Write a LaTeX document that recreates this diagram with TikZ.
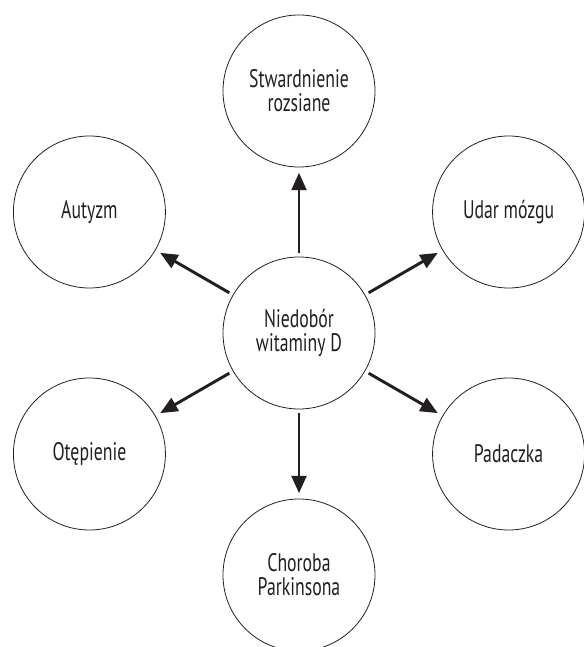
\documentclass[tikz,border=0pt]{standalone}
\usepackage{fontspec}
\setmainfont{PT Sans}[FakeStretch=0.7]
\usetikzlibrary{arrows.meta}
\usetikzlibrary{calc}
\definecolor{vdink}{HTML}{231F20}
\tikzset{
  vdcircle/.style={
    draw=vdink, circle, minimum size=114pt, inner sep=0pt, line width=0.6pt,
    align=center, font=\fontsize{19}{18}\selectfont, text=vdink},
  vdarrow/.style={-{Triangle[length=13pt, width=11pt]}, draw=vdink,
    line width=2.2pt, shorten <=3pt, shorten >=4pt},
}

\begin{document}
\begin{tikzpicture}[x=0.75pt, y=0.75pt]
\useasboundingbox (0, 0) rectangle (583, 647);

% Cause in the middle.
\node[vdcircle] (niedobor) at (299, 314) {Niedobór\\witaminy D};

% Effects round it, every 60 degrees.
\node[vdcircle] (stwardnienie) at ($(niedobor)+(90:242)$)
  {Stwardnienie\\rozsiane};
\node[vdcircle] (udar) at ($(niedobor)+(30:242)$) {Udar mózgu};
\node[vdcircle] (padaczka) at ($(niedobor)+(-30:242)$) {Padaczka};
\node[vdcircle] (parkinson) at ($(niedobor)+(-90:242)$)
  {Choroba\\Parkinsona};
\node[vdcircle] (otepienie) at ($(niedobor)+(210:242)$) {Otępienie};
\node[vdcircle] (autyzm) at ($(niedobor)+(150:242)$) {Autyzm};

% Arrows.
\foreach \n in {stwardnienie, udar, padaczka, parkinson, otepienie, autyzm} {
  \draw[vdarrow] (niedobor) -- (\n);
}

\end{tikzpicture}
\end{document}
